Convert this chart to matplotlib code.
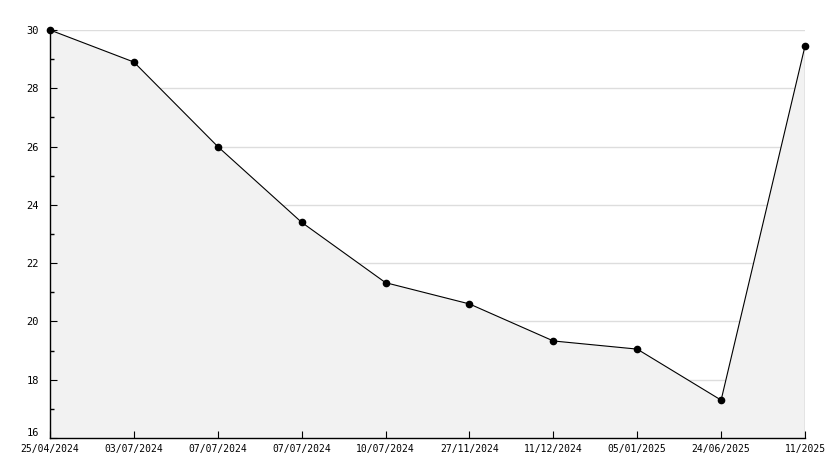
import matplotlib
matplotlib.use("Agg")
import matplotlib.pyplot as plt
from matplotlib.ticker import MultipleLocator

labels = ["25/04/2024", "03/07/2024", "07/07/2024", "07/07/2024", "10/07/2024",
          "27/11/2024", "11/12/2024", "05/01/2025", "24/06/2025", "11/2025"]
values = [30.0, 28.9, 26.0, 23.4, 21.33, 20.6, 19.33, 19.05, 17.3, 29.45]
yticks = [16, 18, 20, 22, 24, 26, 28, 30]

x = list(range(len(values)))

fig = plt.figure(figsize=(8.34, 4.68), dpi=100)
ax = fig.add_axes([50 / 834, 30 / 468, 755 / 834, 408 / 468])

ax.set_xlim(0, len(values) - 1)
ax.set_ylim(16, 30)

# grid sits behind the filled area
for v in yticks[1:]:
    ax.axhline(v, color="#dddddd", linewidth=1, zorder=0.5)

ax.fill_between(x, values, 16, facecolor="#f2f2f2", edgecolor="none", zorder=1)
ax.plot(x, values, color="black", linewidth=0.8, marker="o", markersize=4.5,
        zorder=3, clip_on=False)
ax.vlines(x[-1], 16, values[-1], color="black", linewidth=0.8, zorder=3)

for side in ["top", "right"]:
    ax.spines[side].set_visible(False)
for side in ["left", "bottom"]:
    ax.spines[side].set_linewidth(1)
    ax.spines[side].set_zorder(4)

ax.set_xticks(x)
ax.set_xticklabels(labels, family="DejaVu Sans Mono", fontsize=7)
ax.tick_params(axis="x", direction="in", length=5, pad=4)

ax.set_yticks(yticks)
ax.set_yticklabels([str(v) for v in yticks], family="DejaVu Sans Mono", fontsize=7.5)
ax.yaxis.set_minor_locator(MultipleLocator(1))
ax.tick_params(axis="y", which="major", direction="in", length=5, pad=8)
ax.tick_params(axis="y", which="minor", direction="in", length=3, width=1)
ax.get_yticklabels()[0].set_verticalalignment("bottom")

fig.savefig("out.png", dpi=100)
